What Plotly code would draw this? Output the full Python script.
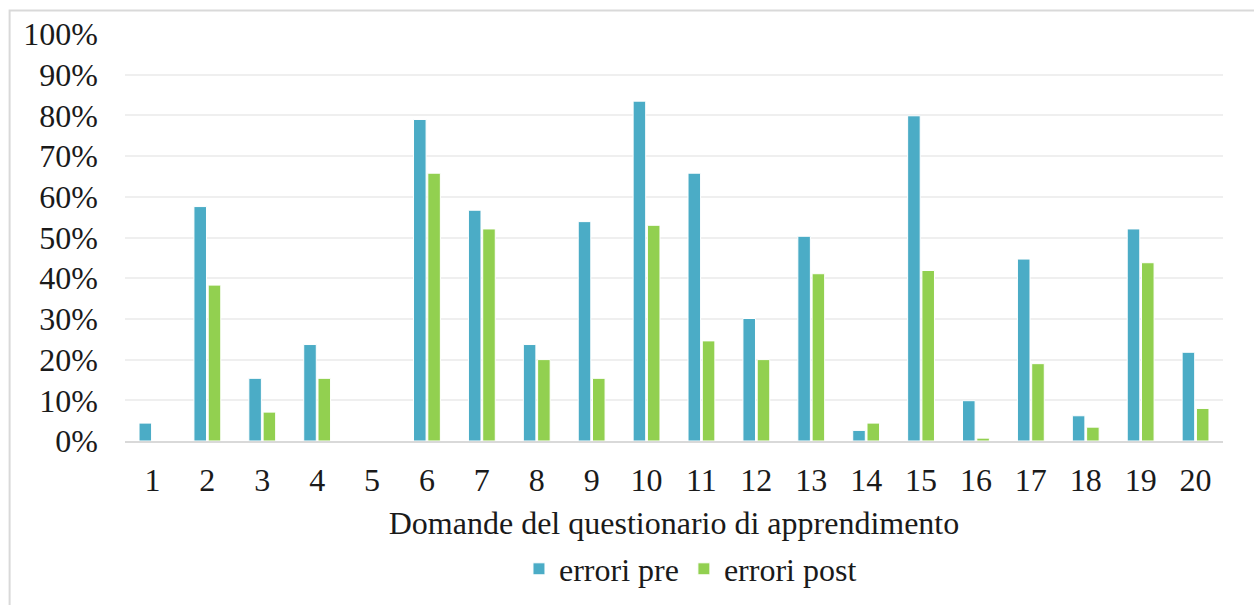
import plotly.graph_objects as go

# Learning-questionnaire items and error rates before / after
domande = [str(i) for i in range(1, 21)]
errori_pre = [0.044, 0.576, 0.154, 0.237, 0.0, 0.790, 0.567, 0.237, 0.539, 0.835,
              0.658, 0.301, 0.503, 0.026, 0.799, 0.099, 0.447, 0.062, 0.521, 0.218]
errori_post = [0.0, 0.383, 0.071, 0.154, 0.0, 0.658, 0.521, 0.200, 0.154, 0.530,
               0.246, 0.200, 0.411, 0.044, 0.419, 0.007, 0.190, 0.034, 0.438, 0.080]
y_ticks = [i / 10 for i in range(11)]
y_tick_text = [f"{i * 10}%" for i in range(11)]

W, H = 1254, 605
ML, MR, MT, MB = 124.5, 30.5, 34, 164
PW, PH = W - ML - MR, H - MT - MB

FONT = "Liberation Serif"
FS = 32
TXT = "#1a1a1a"
BLUE = "#4BACC6"
GREEN = "#92D050"


def px_x(x):
    return (x - ML) / PW


def px_y(y):
    return (H - MB - y) / PH


fig = go.Figure()
fig.add_trace(go.Bar(x=domande, y=errori_pre, name="errori pre",
                     marker=dict(color=BLUE, line=dict(color="white", width=1))))
fig.add_trace(go.Bar(x=domande, y=errori_post, name="errori post",
                     marker=dict(color=GREEN, line=dict(color="white", width=1))))

fig.update_layout(
    width=W, height=H,
    margin=dict(l=ML, r=MR, t=MT, b=MB, autoexpand=False),
    paper_bgcolor="white", plot_bgcolor="white",
    barmode="group", bargap=0.48, bargroupgap=0.12,
    font=dict(family=FONT, size=FS, color=TXT),
    showlegend=True,
    legend=dict(orientation="h", x=0.515, xanchor="center", y=px_y(569), yanchor="middle",
                font=dict(family=FONT, size=FS, color=TXT),
                itemwidth=30, tracegroupgap=0, bgcolor="rgba(0,0,0,0)"),
    xaxis=dict(
        type="category", tickfont=dict(family=FONT, size=FS, color=TXT),
        showgrid=False, showline=True, linecolor="#D9D9D9", linewidth=2,
        ticks="", ticklabelstandoff=10, automargin=False,
        title=dict(text="Domande del questionario di apprendimento",
                   font=dict(family=FONT, size=FS, color=TXT), standoff=14),
    ),
    yaxis=dict(
        range=[0, 1.0], tickvals=y_ticks, ticktext=y_tick_text,
        tickfont=dict(family=FONT, size=FS, color=TXT), automargin=False,
        showgrid=True, gridcolor="#EFEFEF", gridwidth=1.5,
        zeroline=False, showline=False, ticks="", ticklabelstandoff=26,
    ),
    shapes=[
        dict(type="rect", xref="paper", yref="paper",
             x0=px_x(9), x1=px_x(1275), y0=px_y(625), y1=px_y(10.5),
             line=dict(color="#D9D9D9", width=2), fillcolor="rgba(0,0,0,0)", layer="below"),
    ],
)

fig.write_html("out.html")
